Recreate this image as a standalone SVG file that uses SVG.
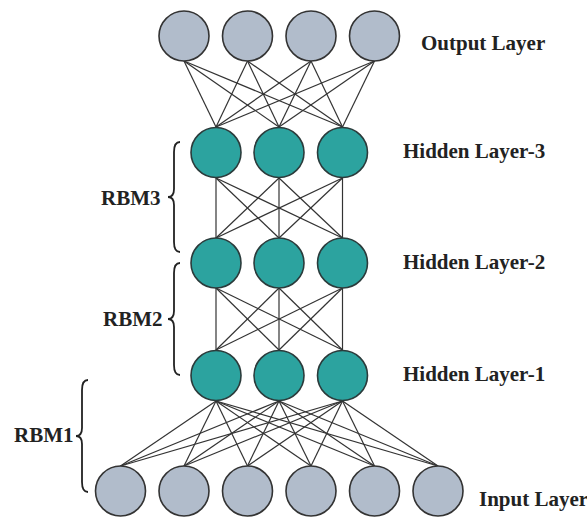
<svg xmlns="http://www.w3.org/2000/svg" width="587" height="517" viewBox="0 0 587 517">
<style>
.gray{fill:#b1bccb;stroke:#333;stroke-width:1.6}
.teal{fill:#2ca39f;stroke:#2b3b3b;stroke-width:1.6}
.lbl{font-family:"Liberation Serif","Times New Roman",serif;font-weight:bold;font-size:21px;fill:#222}
#connectors line{stroke:#333;stroke-width:1.2}
.brace{fill:none;stroke:#222;stroke-width:1.8}
</style>
<rect width="587" height="517" fill="#fff"/>
<g id="connectors">
<!-- output -> hidden3 -->
<line x1="184" y1="61" x2="216" y2="127"/><line x1="184" y1="61" x2="279" y2="127"/><line x1="184" y1="61" x2="342.5" y2="127"/>
<line x1="247.5" y1="61" x2="216" y2="127"/><line x1="247.5" y1="61" x2="279" y2="127"/><line x1="247.5" y1="61" x2="342.5" y2="127"/>
<line x1="311" y1="61" x2="216" y2="127"/><line x1="311" y1="61" x2="279" y2="127"/><line x1="311" y1="61" x2="342.5" y2="127"/>
<line x1="374.5" y1="61" x2="216" y2="127"/><line x1="374.5" y1="61" x2="279" y2="127"/><line x1="374.5" y1="61" x2="342.5" y2="127"/>
<!-- hidden3 -> hidden2 -->
<line x1="216" y1="178" x2="216" y2="238"/><line x1="216" y1="178" x2="279" y2="238"/><line x1="216" y1="178" x2="342.5" y2="238"/>
<line x1="279" y1="178" x2="216" y2="238"/><line x1="279" y1="178" x2="279" y2="238"/><line x1="279" y1="178" x2="342.5" y2="238"/>
<line x1="342.5" y1="178" x2="216" y2="238"/><line x1="342.5" y1="178" x2="279" y2="238"/><line x1="342.5" y1="178" x2="342.5" y2="238"/>
<!-- hidden2 -> hidden1 -->
<line x1="216" y1="288" x2="216" y2="350"/><line x1="216" y1="288" x2="279" y2="350"/><line x1="216" y1="288" x2="342.5" y2="350"/>
<line x1="279" y1="288" x2="216" y2="350"/><line x1="279" y1="288" x2="279" y2="350"/><line x1="279" y1="288" x2="342.5" y2="350"/>
<line x1="342.5" y1="288" x2="216" y2="350"/><line x1="342.5" y1="288" x2="279" y2="350"/><line x1="342.5" y1="288" x2="342.5" y2="350"/>
<!-- hidden1 -> input -->
<line x1="216" y1="401" x2="120.5" y2="466"/><line x1="216" y1="401" x2="184" y2="466"/><line x1="216" y1="401" x2="247.5" y2="466"/><line x1="216" y1="401" x2="311" y2="466"/><line x1="216" y1="401" x2="374.5" y2="466"/><line x1="216" y1="401" x2="438" y2="466"/>
<line x1="279" y1="401" x2="120.5" y2="466"/><line x1="279" y1="401" x2="184" y2="466"/><line x1="279" y1="401" x2="247.5" y2="466"/><line x1="279" y1="401" x2="311" y2="466"/><line x1="279" y1="401" x2="374.5" y2="466"/><line x1="279" y1="401" x2="438" y2="466"/>
<line x1="342.5" y1="401" x2="120.5" y2="466"/><line x1="342.5" y1="401" x2="184" y2="466"/><line x1="342.5" y1="401" x2="247.5" y2="466"/><line x1="342.5" y1="401" x2="311" y2="466"/><line x1="342.5" y1="401" x2="374.5" y2="466"/><line x1="342.5" y1="401" x2="438" y2="466"/>
</g>
<g id="output-layer">
<circle class="gray" cx="184" cy="36" r="25"/>
<circle class="gray" cx="247.5" cy="36" r="25"/>
<circle class="gray" cx="311" cy="36" r="25"/>
<circle class="gray" cx="374.5" cy="36" r="25"/>
<text class="lbl" x="421" y="50">Output Layer</text>
</g>
<g id="hidden-layer-3">
<circle class="teal" cx="216" cy="152.5" r="25"/>
<circle class="teal" cx="279" cy="152.5" r="25"/>
<circle class="teal" cx="342.5" cy="152.5" r="25"/>
<text class="lbl" x="403" y="158">Hidden Layer-3</text>
</g>
<g id="hidden-layer-2">
<circle class="teal" cx="216" cy="263" r="25"/>
<circle class="teal" cx="279" cy="263" r="25"/>
<circle class="teal" cx="342.5" cy="263" r="25"/>
<text class="lbl" x="403" y="269">Hidden Layer-2</text>
</g>
<g id="hidden-layer-1">
<circle class="teal" cx="216" cy="375.5" r="25"/>
<circle class="teal" cx="279" cy="375.5" r="25"/>
<circle class="teal" cx="342.5" cy="375.5" r="25"/>
<text class="lbl" x="403" y="381">Hidden Layer-1</text>
</g>
<g id="input-layer">
<circle class="gray" cx="120.5" cy="491" r="25"/>
<circle class="gray" cx="184" cy="491" r="25"/>
<circle class="gray" cx="247.5" cy="491" r="25"/>
<circle class="gray" cx="311" cy="491" r="25"/>
<circle class="gray" cx="374.5" cy="491" r="25"/>
<circle class="gray" cx="438" cy="491" r="25"/>
<text class="lbl" x="479" y="506">Input Layer</text>
</g>
<g id="rbm3">
<path class="brace" d="M180,142 Q174,142 174,152 L174,189 Q174,197 168,197 Q174,197 174,205 L174,242 Q174,252 180,252"/>
<text class="lbl" x="101" y="205">RBM3</text>
</g>
<g id="rbm2">
<path class="brace" d="M180,263 Q174,263 174,273 L174,311 Q174,319 168,319 Q174,319 174,327 L174,365 Q174,375 180,375"/>
<text class="lbl" x="103" y="326">RBM2</text>
</g>
<g id="rbm1">
<path class="brace" d="M88,380 Q82,380 82,390 L82,428 Q82,436 76,436 Q82,436 82,444 L82,482 Q82,492 88,492"/>
<text class="lbl" x="14" y="442">RBM1</text>
</g>
</svg>
